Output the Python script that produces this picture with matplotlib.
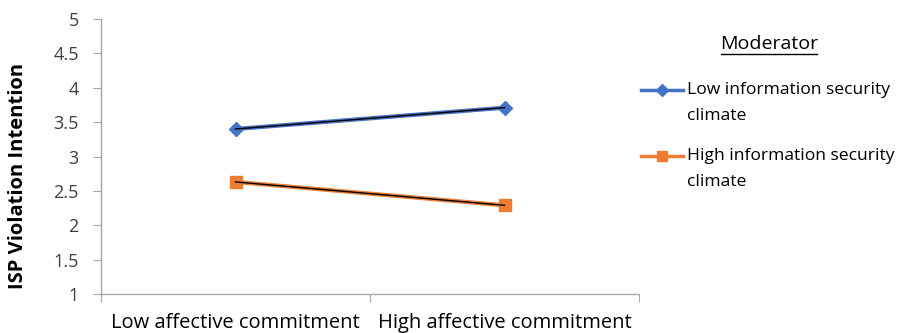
import matplotlib
matplotlib.use("Agg")
import matplotlib.pyplot as plt
from matplotlib.lines import Line2D

categories = ["Low affective commitment", "High affective commitment"]
low_climate = [3.40, 3.71]
high_climate = [2.63, 2.29]
series_names = [["Low information security", "climate"], ["High information security", "climate"]]
legend_title = "Moderator"
y_label = "ISP Violation Intention"
y_ticks = [1, 1.5, 2, 2.5, 3, 3.5, 4, 4.5, 5]

plt.rcParams['font.family'] = ['Open Sans', 'DejaVu Sans']

fig = plt.figure(figsize=(9.05, 3.33), dpi=100)
W, H = 905, 333
ax = fig.add_axes([101 / W, 1 - 294 / H, (639 - 101) / W, (294 - 19) / H])

blue = "#4472C4"
orange = "#ED7D31"
xs = [0.5, 1.5]
ax.plot(xs, low_climate, color=blue, lw=3, marker="D", ms=7, mfc=blue, mec=blue, zorder=3)
ax.plot(xs, low_climate, color="black", lw=1, zorder=4)
ax.plot(xs, high_climate, color=orange, lw=3, marker="s", ms=8, mfc=orange, mec=orange, zorder=3)
ax.plot(xs, high_climate, color="black", lw=1, zorder=4)

ax.set_xlim(0, 2)
ax.set_ylim(1, 5)
ax.set_yticks(y_ticks)
ax.set_yticklabels([f"{t:g}" for t in y_ticks], fontsize=13, color="#404040")
ax.set_xticks([0, 1, 2])
ax.set_xticklabels([])
ax.set_xticks(xs, minor=True)
ax.set_xticklabels(categories, minor=True, fontsize=14.5, color="black")
ax.tick_params(axis="x", which="minor", length=0, pad=14)
ax.tick_params(axis="x", which="major", length=6, color="#A6A6A6", direction="out")
ax.tick_params(axis="y", length=6, color="#A6A6A6", direction="out", pad=10)
for s in ["top", "right"]:
    ax.spines[s].set_visible(False)
for s in ["left", "bottom"]:
    ax.spines[s].set_color("#A6A6A6")
    ax.spines[s].set_linewidth(1)

fig.text(18 / W, 1 - 176 / H, y_label, rotation=90, fontsize=14.5, fontweight="bold",
         ha="center", va="center")

# legend (manual)
fig.text(769 / W, 1 - 44 / H, legend_title, fontsize=14, ha="center", va="center")
fig.add_artist(Line2D([721 / W, 817 / W], [1 - 54 / H, 1 - 54 / H], color="black", lw=1,
                      transform=fig.transFigure))
entries = [(blue, "D", 6, 90), (orange, "s", 7, 156)]
for (c, m, ms, yy), lines in zip(entries, series_names):
    fig.add_artist(Line2D([641 / W, 683 / W], [1 - yy / H] * 2, color=c, lw=2.5,
                          transform=fig.transFigure))
    fig.add_artist(Line2D([662 / W], [1 - yy / H], color=c, marker=m, ms=ms, mfc=c, mec=c,
                          transform=fig.transFigure))
    for i, line in enumerate(lines):
        fig.text(687 / W, 1 - (yy + 26 * i) / H, line, fontsize=12.6, ha="left", va="center")

fig.savefig("out.png", dpi=100)
